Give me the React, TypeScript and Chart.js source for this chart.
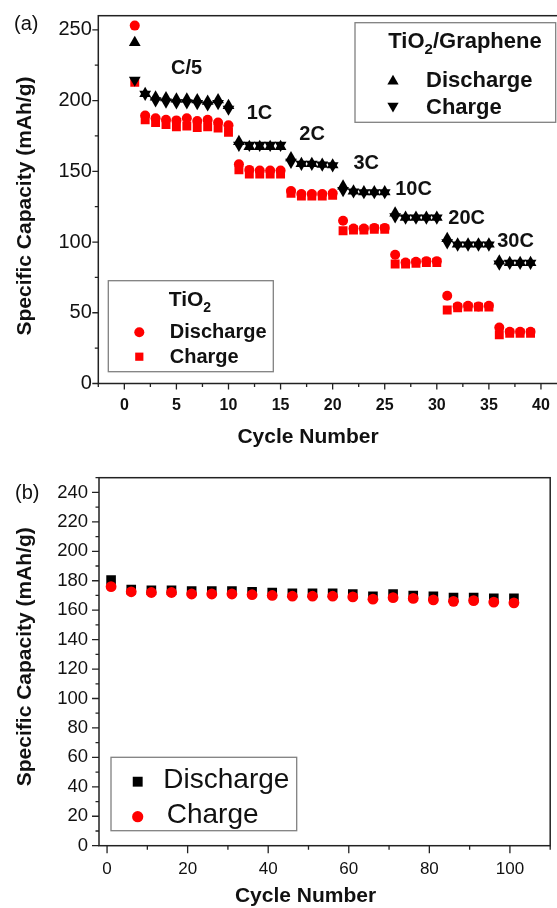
import React, { useEffect, useRef } from "react";
import { Chart, registerables } from "chart.js";

Chart.register(...registerables);

// ---------- Panel (a): rate capability ----------
const CYCLES_A = [1, 2, 3, 4, 5, 6, 7, 8, 9, 10, 11, 12, 13, 14, 15, 16, 17, 18, 19, 20, 21, 22, 23, 24, 25, 26, 27, 28, 29, 30, 31, 32, 33, 34, 35, 36, 37, 38, 39];

// TiO2/Graphene (black triangles)
const TG_DISCHARGE = [241, 205, 202.5, 202, 201, 201, 200.5, 199.5, 200.5, 196.5, 171, 167.5, 167.5, 167.5, 167.5, 159.5, 155.5, 155.5, 155, 154.5, 139.5, 136, 135.5, 135.5, 135.5, 120.5, 117.5, 117.5, 117.5, 117.5, 102.5, 98.5, 98.5, 98.5, 98.5, 86.5, 85.5, 85.5, 85.5];
const TG_CHARGE = [214.5, 204.5, 200, 199, 198.5, 198.5, 198, 197, 198, 194, 168.5, 168.5, 168.5, 168.5, 168.5, 156.5, 155, 155, 154.5, 154, 136.5, 135.5, 135, 135, 135, 118, 117, 117, 117, 117, 99.5, 98, 98, 98, 98, 84.5, 85, 85, 85];

// TiO2 (red)
const T_DISCHARGE = [253, 189.5, 187.5, 186.5, 186, 187.5, 185.5, 186.5, 184.5, 182.5, 155, 151, 150.5, 150.5, 150.5, 136, 134, 134, 134, 134.5, 115, 109.5, 109.5, 110, 110, 91, 85.5, 86, 86.5, 86.5, 62, 54.5, 55, 54.5, 55, 39.5, 36.5, 36.5, 36.5];
const T_CHARGE = [213, 186.5, 184.5, 183, 181.5, 182, 181, 181.5, 180.5, 177.5, 151, 148, 148, 148, 148, 134.5, 132.5, 132.5, 132.5, 133, 108, 108.5, 108.5, 109, 109, 84.5, 84.5, 85, 85.5, 85.5, 52, 53.5, 54, 54, 54, 34.5, 35.5, 35.5, 35.5];

const RATE_LABELS = ["C/5", "1C", "2C", "3C", "10C", "20C", "30C"];
const RATE_LABEL_X = [4.48, 11.75, 16.8, 22.0, 26.0, 31.1, 35.8];
const RATE_LABEL_Y = [222.7, 190.9, 176, 155.2, 137.5, 116.7, 100.7];

const A_X_TICKS = [0, 5, 10, 15, 20, 25, 30, 35, 40];
const A_X_MINOR = [-2.5, 2.5, 7.5, 12.5, 17.5, 22.5, 27.5, 32.5, 37.5, 42.5];
const A_Y_TICKS = [0, 50, 100, 150, 200, 250];
const A_Y_MINOR = [25, 75, 125, 175, 225];

// ---------- Panel (b): cycling ----------
const CYCLES_B = [1, 6, 11, 16, 21, 26, 31, 36, 41, 46, 51, 56, 61, 66, 71, 76, 81, 86, 91, 96, 101];
const B_DISCHARGE = [180.5, 174, 173.5, 173.5, 173, 173, 173, 172.5, 172, 171.5, 171.5, 171.5, 171, 169.5, 171, 170, 169.5, 168.5, 168.5, 168, 168];
const B_CHARGE = [176, 172.5, 172, 172, 171, 171, 171, 170.5, 170, 169.5, 169.5, 169.5, 169, 167.5, 168.5, 168, 167, 166, 166.5, 165.5, 165];

const B_X_TICKS = [0, 20, 40, 60, 80, 100];
const B_X_MINOR = [10, 30, 50, 70, 90, 110];
const B_Y_TICKS = [0, 20, 40, 60, 80, 100, 120, 140, 160, 180, 200, 220, 240];
const B_Y_MINOR = [10, 30, 50, 70, 90, 110, 130, 150, 170, 190, 210, 230, 250];

// ---------- styles ----------
const FONT = '"Liberation Sans", Arial, Helvetica, sans-serif';
const AXIS_COLOR = "#222";
const TEXT_COLOR = "#111";
const RED = "#ff0000";
const BLACK = "#000000";
const LEGEND_BORDER = "#808080";

function pts(xs: number[], ys: number[]) {
  return xs.map((x, i) => ({ x, y: ys[i] }));
}

function drawMarker(ctx: CanvasRenderingContext2D, style: string, x: number, y: number, r: number, color: string) {
  ctx.save();
  ctx.fillStyle = color;
  ctx.beginPath();
  if (style === "circle") {
    ctx.arc(x, y, r, 0, Math.PI * 2);
  } else if (style === "rect") {
    const s = r * Math.SQRT1_2;
    ctx.rect(x - s, y - s, 2 * s, 2 * s);
  } else {
    const sg = style === "up" ? 1 : -1;
    const a = (2 * Math.PI) / 3;
    ctx.moveTo(x, y - sg * r);
    ctx.lineTo(x + r * Math.sin(a), y - sg * r * Math.cos(a));
    ctx.lineTo(x - r * Math.sin(a), y - sg * r * Math.cos(a));
    ctx.closePath();
  }
  ctx.fill();
  ctx.restore();
}

function text(ctx: CanvasRenderingContext2D, s: string, x: number, y: number, font: string, align: CanvasTextAlign = "left", baseline: CanvasTextBaseline = "alphabetic") {
  ctx.font = font;
  ctx.textAlign = align;
  ctx.textBaseline = baseline;
  ctx.fillStyle = TEXT_COLOR;
  ctx.fillText(s, x, y);
}

// draws "TiO" + subscript "2" + rest
function tio2(ctx: CanvasRenderingContext2D, x: number, y: number, size: number, rest: string) {
  const big = `bold ${size}px ${FONT}`;
  const small = `bold ${Math.round(size * 0.68)}px ${FONT}`;
  text(ctx, "TiO", x, y, big);
  ctx.font = big;
  let cx = x + ctx.measureText("TiO").width;
  text(ctx, "2", cx, y + 6, small);
  ctx.font = small;
  cx += ctx.measureText("2").width;
  if (rest) {
    text(ctx, rest, cx, y, big);
  }
}

function drawTicks(ctx: CanvasRenderingContext2D, chart: any, xMaj: number[], xMin: number[], yMaj: number[], yMin: number[], xl: number[], yl: number[]) {
  const { left, bottom } = chart.chartArea;
  const xs = chart.scales.x;
  const ys = chart.scales.y;
  ctx.save();
  ctx.strokeStyle = AXIS_COLOR;
  ctx.lineWidth = 1.3;
  ctx.beginPath();
  xMaj.forEach((v) => {
    const p = xs.getPixelForValue(v);
    ctx.moveTo(p, bottom);
    ctx.lineTo(p, bottom + xl[0]);
  });
  xMin.forEach((v) => {
    const p = xs.getPixelForValue(v);
    ctx.moveTo(p, bottom);
    ctx.lineTo(p, bottom + xl[1]);
  });
  yMaj.forEach((v) => {
    const p = ys.getPixelForValue(v);
    ctx.moveTo(left, p);
    ctx.lineTo(left - yl[0], p);
  });
  yMin.forEach((v) => {
    const p = ys.getPixelForValue(v);
    ctx.moveTo(left, p);
    ctx.lineTo(left - yl[1], p);
  });
  ctx.stroke();
  ctx.restore();
}

function frame(ctx: CanvasRenderingContext2D, chart: any) {
  const { left, top, right, bottom } = chart.chartArea;
  ctx.save();
  ctx.strokeStyle = AXIS_COLOR;
  ctx.lineWidth = 1.5;
  ctx.strokeRect(left, top, right - left, bottom - top);
  ctx.restore();
}

const plotA = {
  id: "decorA",
  afterDraw(chart: any) {
    const ctx: CanvasRenderingContext2D = chart.ctx;
    frame(ctx, chart);
    drawTicks(ctx, chart, A_X_TICKS, A_X_MINOR, A_Y_TICKS, A_Y_MINOR, [6, 3.5], [6, 3.5]);
    const xs = chart.scales.x;
    const ys = chart.scales.y;
    ctx.save();
    // rate labels
    RATE_LABELS.forEach((t, i) => {
      text(ctx, t, xs.getPixelForValue(RATE_LABEL_X[i]), ys.getPixelForValue(RATE_LABEL_Y[i]), `bold 20px ${FONT}`, "left", "middle");
    });
    // panel label
    text(ctx, "(a)", 14, 24, `20px ${FONT}`, "left", "middle");
    // axis titles
    text(ctx, "Cycle Number", 308, 437.5, `bold 21px ${FONT}`, "center", "middle");
    ctx.save();
    ctx.translate(25, 206);
    ctx.rotate(-Math.PI / 2);
    text(ctx, "Specific Capacity (mAh/g)", 0, 0, `bold 21px ${FONT}`, "center", "middle");
    ctx.restore();

    // legend: TiO2/Graphene
    ctx.strokeStyle = LEGEND_BORDER;
    ctx.lineWidth = 1.3;
    ctx.strokeRect(355, 22.7, 200.7, 99.6);
    tio2(ctx, 388.3, 48.3, 22, "/Graphene");
    drawMarker(ctx, "up", 393, 81.3, 6.5, BLACK);
    drawMarker(ctx, "down", 393, 105.9, 6.5, BLACK);
    text(ctx, "Discharge", 426, 86.7, `bold 22px ${FONT}`);
    text(ctx, "Charge", 426, 114, `bold 22px ${FONT}`);

    // legend: TiO2
    ctx.fillStyle = "#fff";
    ctx.fillRect(108.3, 280.7, 165, 91);
    ctx.strokeStyle = LEGEND_BORDER;
    ctx.lineWidth = 1.3;
    ctx.strokeRect(108.3, 280.7, 165, 91);
    tio2(ctx, 168.7, 306, 21, "");
    drawMarker(ctx, "circle", 139.3, 332.3, 5, RED);
    drawMarker(ctx, "rect", 139.3, 356.7, 5.8, RED);
    text(ctx, "Discharge", 169.8, 338.3, `bold 20px ${FONT}`);
    text(ctx, "Charge", 169.8, 363.3, `bold 20px ${FONT}`);
    ctx.restore();
  },
};

const plotB = {
  id: "decorB",
  afterDraw(chart: any) {
    const ctx: CanvasRenderingContext2D = chart.ctx;
    frame(ctx, chart);
    drawTicks(ctx, chart, B_X_TICKS, B_X_MINOR, B_Y_TICKS, B_Y_MINOR, [7.5, 4], [7, 3.5]);
    ctx.save();
    text(ctx, "(b)", 15, 38.7, `20px ${FONT}`, "left", "middle");
    text(ctx, "Cycle Number", 305.5, 441.7, `bold 21px ${FONT}`, "center", "middle");
    ctx.save();
    ctx.translate(25.5, 201.7);
    ctx.rotate(-Math.PI / 2);
    text(ctx, "Specific Capacity (mAh/g)", 0, 0, `bold 21px ${FONT}`, "center", "middle");
    ctx.restore();

    ctx.strokeStyle = LEGEND_BORDER;
    ctx.lineWidth = 1.3;
    ctx.strokeRect(111, 302.3, 185.7, 73.4);
    drawMarker(ctx, "rect", 137.7, 326.7, 7, BLACK);
    drawMarker(ctx, "circle", 137.7, 361.7, 5.6, RED);
    text(ctx, "Discharge", 163.3, 333.3, `28px ${FONT}`);
    text(ctx, "Charge", 166.7, 368.3, `28px ${FONT}`);
    ctx.restore();
  },
};

function axisCommon(tickFont: any, padding: number) {
  return {
    type: "linear" as const,
    grid: { display: false, drawTicks: false },
    border: { display: false },
    ticks: { font: tickFont, color: TEXT_COLOR, padding, callback: (v: any) => String(v), autoSkip: false, maxRotation: 0 },
  };
}

function ChartA() {
  const ref = useRef<HTMLCanvasElement | null>(null);
  useEffect(() => {
    if (!ref.current) return;
    const chart = new Chart(ref.current, {
      type: "scatter",
      data: {
        datasets: [
          { label: "TiO2/Graphene Discharge", data: pts(CYCLES_A, TG_DISCHARGE), pointStyle: "triangle", pointRadius: 6.8, pointBackgroundColor: BLACK, pointBorderWidth: 0 },
          { label: "TiO2/Graphene Charge", data: pts(CYCLES_A, TG_CHARGE), pointStyle: "triangle", pointRotation: 180, pointRadius: 6.8, pointBackgroundColor: BLACK, pointBorderWidth: 0 },
          { label: "TiO2 Discharge", data: pts(CYCLES_A, T_DISCHARGE), pointStyle: "circle", pointRadius: 5, pointBackgroundColor: RED, pointBorderWidth: 0 },
          { label: "TiO2 Charge", data: pts(CYCLES_A, T_CHARGE), pointStyle: "rect", pointRadius: 6.3, pointBackgroundColor: RED, pointBorderWidth: 0 },
        ] as any,
      },
      options: {
        responsive: false,
        animation: false,
        events: [],
        devicePixelRatio: 1,
        layout: { padding: { left: 0, top: 15.7, right: 33, bottom: 0 } },
        plugins: { legend: { display: false }, tooltip: { enabled: false } },
        scales: {
          x: {
            ...axisCommon({ family: FONT, size: 16, weight: "bold" }, 12),
            min: -2.5,
            max: 42.5,
            afterBuildTicks: (s: any) => { s.ticks = A_X_TICKS.map((v) => ({ value: v })); },
            afterFit: (s: any) => { s.height = 71.5; s.paddingLeft = 0; s.paddingRight = 0; },
          },
          y: {
            ...axisCommon({ family: FONT, size: 20 }, 6.5),
            min: 0,
            max: 260,
            afterBuildTicks: (s: any) => { s.ticks = A_Y_TICKS.map((v) => ({ value: v })); },
            afterFit: (s: any) => { s.width = 98.3; s.paddingTop = 0; s.paddingBottom = 0; },
          },
        },
      } as any,
      plugins: [plotA],
    });
    return () => chart.destroy();
  }, []);
  return <canvas ref={ref} width={600} height={455} style={{ position: "absolute", left: 0, top: 0, display: "block" }} />;
}

function ChartB() {
  const ref = useRef<HTMLCanvasElement | null>(null);
  useEffect(() => {
    if (!ref.current) return;
    const chart = new Chart(ref.current, {
      type: "scatter",
      data: {
        datasets: [
          { label: "Charge", data: pts(CYCLES_B, B_CHARGE), pointStyle: "circle", pointRadius: 5.4, pointBackgroundColor: RED, pointBorderWidth: 0 },
          { label: "Discharge", data: pts(CYCLES_B, B_DISCHARGE), pointStyle: "rect", pointRadius: 6.8, pointBackgroundColor: BLACK, pointBorderWidth: 0 },
        ] as any,
      },
      options: {
        responsive: false,
        animation: false,
        events: [],
        devicePixelRatio: 1,
        layout: { padding: { left: 0, top: 22.7, right: 1, bottom: 0 } },
        plugins: { legend: { display: false }, tooltip: { enabled: false } },
        scales: {
          x: {
            ...axisCommon({ family: FONT, size: 17 }, 13.3),
            min: -2,
            max: 110,
            afterBuildTicks: (s: any) => { s.ticks = B_X_TICKS.map((v) => ({ value: v })); },
            afterFit: (s: any) => { s.height = 62.3; s.paddingLeft = 0; s.paddingRight = 0; },
          },
          y: {
            ...axisCommon({ family: FONT, size: 18.5 }, 11),
            min: 0,
            max: 250,
            afterBuildTicks: (s: any) => { s.ticks = B_Y_TICKS.map((v) => ({ value: v })); },
            afterFit: (s: any) => { s.width = 99; s.paddingTop = 0; s.paddingBottom = 0; },
          },
        },
      } as any,
      plugins: [plotB],
    });
    return () => chart.destroy();
  }, []);
  return <canvas ref={ref} width={557} height={453} style={{ position: "absolute", left: 0, top: 455, display: "block" }} />;
}

export default function App() {
  return (
    <div style={{ position: "absolute", left: 0, top: 0, width: 557, height: 908, overflow: "hidden", background: "#fff" }}>
      <ChartA />
      <ChartB />
    </div>
  );
}
